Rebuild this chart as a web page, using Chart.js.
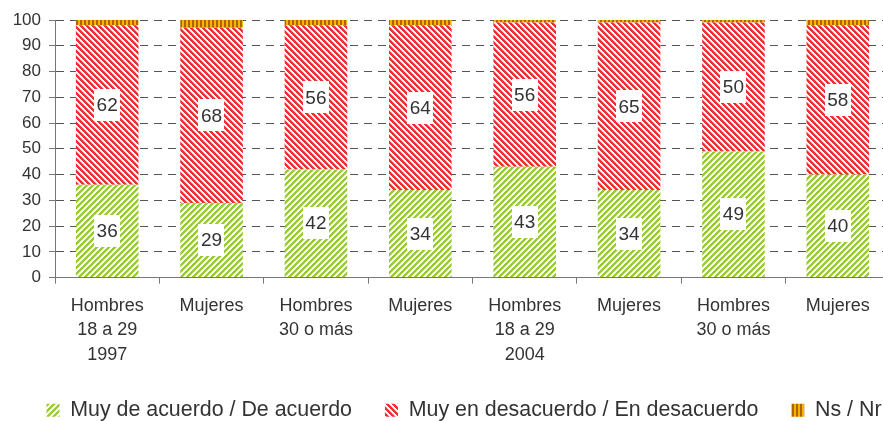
<!DOCTYPE html>
<html>
<head>
<meta charset="utf-8">
<script src="https://cdn.jsdelivr.net/npm/chart.js@4"></script>
<style>
  html, body { margin: 0; padding: 0; background: #fff; overflow: hidden; }
  #wrap { position: absolute; left: 0; top: 0; width: 895px; height: 421px; }
</style>
</head>
<body>
<div id="wrap"><canvas id="chart" width="895" height="421"></canvas></div>
<script>
const categories = [
  ['Hombres', '18 a 29', '1997'],
  ['Mujeres'],
  ['Hombres', '30 o más'],
  ['Mujeres'],
  ['Hombres', '18 a 29', '2004'],
  ['Mujeres'],
  ['Hombres', '30 o más'],
  ['Mujeres']
];
const seriesNames = ['Muy de acuerdo / De acuerdo', 'Muy en desacuerdo / En desacuerdo', 'Ns / Nr'];
const acuerdo = [36, 29, 42, 34, 43, 34, 49, 40];
const desacuerdo = [62, 68, 56, 64, 56, 65, 50, 58];
const nsnr = [2, 3, 2, 2, 1, 1, 1, 2];
const yTicks = [0, 10, 20, 30, 40, 50, 60, 70, 80, 90, 100];

Chart.defaults.font.family = '"Liberation Sans", Arial, sans-serif';
Chart.defaults.color = '#333';

// small hatch tiles
function hatch(color, dir) {
  const c = document.createElement('canvas');
  c.width = 6; c.height = 6;
  const g = c.getContext('2d');
  g.fillStyle = '#fff';
  g.fillRect(0, 0, 6, 6);
  for (let x = 0; x < 6; x++) {
    for (let y = 0; y < 6; y++) {
      const d = ((dir > 0 ? x + y : x - y) % 6 + 6) % 6;
      if (d < 3) {
        g.fillStyle = color;
        g.fillRect(x, y, 1, 1);
      } else if (d === 3) {
        g.globalAlpha = 0.35;
        g.fillStyle = color;
        g.fillRect(x, y, 1, 1);
        g.globalAlpha = 1;
      }
    }
  }
  return g.createPattern(c, 'repeat');
}

function vstripes(a, b) {
  const c = document.createElement('canvas');
  c.width = 4; c.height = 4;
  const g = c.getContext('2d');
  g.fillStyle = a; g.fillRect(0, 0, 2, 4);
  g.fillStyle = b; g.fillRect(2, 0, 2, 4);
  return g.createPattern(c, 'repeat');
}

const greenFill = hatch('#99cc33', 1);
const redFill = hatch('#f03030', -1);
const nsFill = vstripes('#b06400', '#f5b400');

const boxLabels = {
  id: 'boxLabels',
  afterDatasetsDraw(chart) {
    const ctx = chart.ctx;
    ctx.save();
    ctx.font = '19px "Liberation Sans", Arial, sans-serif';
    ctx.textAlign = 'center';
    ctx.textBaseline = 'middle';
    [0, 1].forEach(di => {
      const meta = chart.getDatasetMeta(di);
      meta.data.forEach((bar, i) => {
        const v = String(chart.data.datasets[di].data[i]);
        const y = (bar.y + bar.base) / 2;
        const w = ctx.measureText(v).width + 5;
        ctx.fillStyle = '#fff';
        ctx.fillRect(Math.round(bar.x - w / 2), Math.round(y - 16), Math.round(w), 32);
        ctx.fillStyle = '#333';
        ctx.fillText(v, bar.x, y + 1);
      });
    });
    ctx.restore();
  }
};

// nudge the legend to the right, like the original
const legendShift = {
  id: 'legendShift',
  afterLayout(chart) {
    chart.legend.left += 39;
    chart.legend.right += 39;
  }
};

new Chart(document.getElementById('chart'), {
  type: 'bar',
  data: {
    labels: categories,
    datasets: [
      { label: seriesNames[0], data: acuerdo, backgroundColor: greenFill, borderWidth: 0 },
      { label: seriesNames[1], data: desacuerdo, backgroundColor: redFill, borderWidth: 0 },
      { label: seriesNames[2], data: nsnr, backgroundColor: nsFill, borderWidth: 0 }
    ]
  },
  options: {
    responsive: false,
    animation: false,
    layout: { padding: { top: 20, left: -40, right: 5, bottom: -10 } },
    datasets: { bar: { barPercentage: 0.6, categoryPercentage: 1 } },
    scales: {
      x: {
        stacked: true,
        afterFit: s => { s.height = 89; },
        grid: { offset: true, drawOnChartArea: false, drawTicks: true, tickLength: 6, tickColor: '#777' },
        border: { color: '#777', width: 1 },
        ticks: { font: { size: 18, lineHeight: 1.36 }, color: '#333', padding: 10, maxRotation: 0, autoSkip: false }
      },
      y: {
        stacked: true,
        min: 0,
        max: 100,
        afterFit: s => { s.width = 95; },
        afterBuildTicks: s => { s.ticks = yTicks.map(v => ({ value: v })); },
        grid: {
          color: c => c.tick && c.tick.value === 0 ? 'rgba(0,0,0,0)' : '#555',
          tickColor: '#777',
          tickLength: 6,
          tickBorderDash: []
        },
        border: { color: '#777', width: 1, dash: [8, 6] },
        ticks: { font: { size: 17 }, color: '#333', padding: 8 }
      }
    },
    plugins: {
      legend: {
        position: 'bottom',
        labels: { font: { size: 21.4 }, color: '#333', boxWidth: 13, boxHeight: 13, padding: 33 }
      },
      tooltip: { enabled: false }
    }
  },
  plugins: [boxLabels, legendShift]
});
</script>
</body>
</html>
